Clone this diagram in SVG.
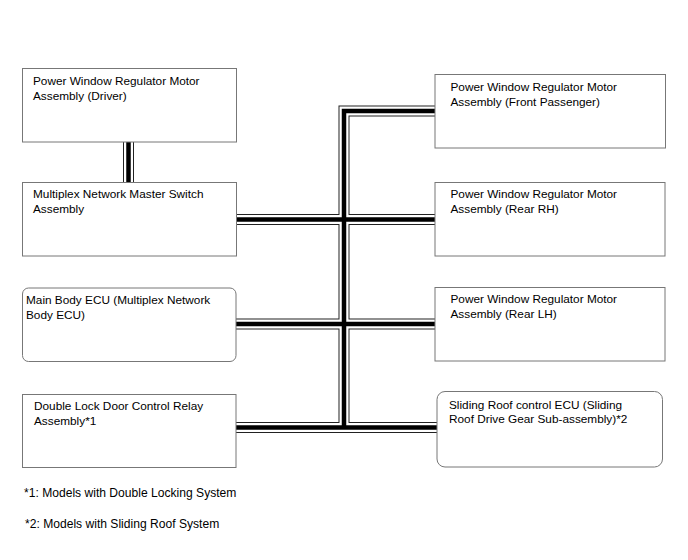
<svg xmlns="http://www.w3.org/2000/svg" width="688" height="560" viewBox="0 0 688 560">
<style>
.box{fill:#fff;stroke:#777;stroke-width:1}
text{font-family:"Liberation Sans",Arial,sans-serif;font-size:11.8px;fill:#000}
.fn{font-size:12.1px}
.o{fill:none;stroke:#222;stroke-width:11;stroke-linejoin:miter}
.w{fill:none;stroke:#fff;stroke-width:9;stroke-linejoin:miter}
.c{fill:none;stroke:#000;stroke-width:4.5;stroke-linejoin:miter}
</style>
<rect width="688" height="560" fill="#fff"/>
<g id="connectors">
<defs>
<path id="p1" d="M128.5,142 V182"/>
<path id="p2" d="M236,219.5 H435"/>
<path id="p3" d="M236,324 H435"/>
<path id="p4" d="M236,427.5 H437"/>
<path id="p5" d="M344,427.5 V111 H435"/>
</defs>
<g class="o"><use href="#p1"/><use href="#p2"/><use href="#p3"/><use href="#p4"/><use href="#p5"/></g>
<g class="w"><use href="#p1"/><use href="#p2"/><use href="#p3"/><use href="#p4"/><use href="#p5"/></g>
<g class="c"><use href="#p1"/><use href="#p2"/><use href="#p3"/><use href="#p4"/><use href="#p5"/></g>
</g>
<g id="driver">
<rect class="box" x="22.5" y="68.5" width="214" height="73.5"/>
<text x="33" y="85">Power Window Regulator Motor</text>
<text x="33" y="99.5">Assembly (Driver)</text>
</g>
<g id="master">
<rect class="box" x="22.5" y="182.5" width="214" height="73.5"/>
<text x="33" y="198">Multiplex Network Master Switch</text>
<text x="33" y="212.5">Assembly</text>
</g>
<g id="mainbody">
<rect class="box" x="22.5" y="288" width="213.5" height="73.5" rx="6"/>
<text x="26" y="304">Main Body ECU (Multiplex Network</text>
<text x="26" y="318.5">Body ECU)</text>
</g>
<g id="doublelock">
<rect class="box" x="22.5" y="394.5" width="213.5" height="73"/>
<text x="34" y="410">Double Lock Door Control Relay</text>
<text x="34" y="424.5">Assembly*1</text>
</g>
<g id="frontpass">
<rect class="box" x="435" y="74.5" width="230.5" height="73.5"/>
<text x="450.5" y="91">Power Window Regulator Motor</text>
<text x="450.5" y="105.5">Assembly (Front Passenger)</text>
</g>
<g id="rearrh">
<rect class="box" x="435" y="182.5" width="230" height="73.5"/>
<text x="450.5" y="198">Power Window Regulator Motor</text>
<text x="450.5" y="212.5">Assembly (Rear RH)</text>
</g>
<g id="rearlh">
<rect class="box" x="435" y="287.5" width="230" height="73.5"/>
<text x="450.5" y="303">Power Window Regulator Motor</text>
<text x="450.5" y="317.5">Assembly (Rear LH)</text>
</g>
<g id="slidingroof">
<rect class="box" x="437" y="391.5" width="225.5" height="75.5" rx="8"/>
<text x="449" y="408.5">Sliding Roof control ECU (Sliding</text>
<text x="449" y="423">Roof Drive Gear Sub-assembly)*2</text>
</g>
<g id="notes">
<text class="fn" x="24" y="496.5">*1: Models with Double Locking System</text>
<text class="fn" x="25" y="528">*2: Models with Sliding Roof System</text>
</g>
</svg>
